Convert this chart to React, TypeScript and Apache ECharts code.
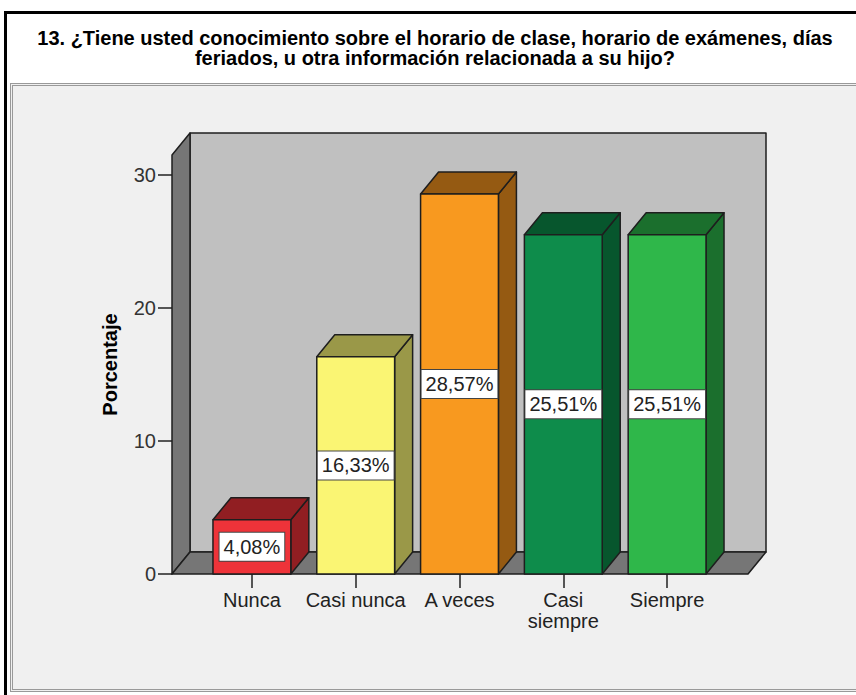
import React, { useEffect, useRef } from 'react';
import * as echarts from 'echarts';

const categories = ['Nunca', 'Casi nunca', 'A veces', 'Casi siempre', 'Siempre'];
const percentages = [4.08, 16.33, 28.57, 25.51, 25.51];
const yTicks = [0, 10, 20, 30];
const frontColors = ['#ee3339', '#faf573', '#f8991f', '#0e8c4b', '#2fb74a'];
const shadeColors = ['#911e22', '#9a9848', '#955a12', '#07562d', '#1b6f2d'];
const titleText =
  '13. ¿Tiene usted conocimiento sobre el horario de clase, horario de exámenes, días\nferiados, u otra información relacionada a su hijo?';
const yAxisName = 'Porcentaje';

const FONT = '"Liberation Sans", Arial, Helvetica, sans-serif';
const DX = 18;
const DY = -22;

function formatPct(v: number): string {
  return v.toFixed(2).replace('.', ',') + '%';
}

export default function App() {
  const ref = useRef<HTMLDivElement>(null);

  useEffect(() => {
    if (!ref.current) return;
    const chart = echarts.init(ref.current, undefined, { renderer: 'svg' });
    const edge = { stroke: '#1e1e1e', lineWidth: 1.5, lineJoin: 'round' };

    chart.setOption({
      animation: false,
      backgroundColor: 'transparent',
      graphic: [
        {
          type: 'text',
          x: 435,
          y: 28,
          style: {
            text: titleText,
            font: 'bold 20px ' + FONT,
            fill: '#000',
            textAlign: 'center',
            lineHeight: 20,
          },
        },
      ],
      grid: { left: 200, right: 137, top: 155, bottom: 121, containLabel: false },
      xAxis: {
        type: 'category',
        data: categories,
        axisLine: { show: false },
        axisTick: { show: true, alignWithLabel: true, length: 14, lineStyle: { color: '#222', width: 1.5 } },
        axisLabel: {
          interval: 0,
          fontSize: 20,
          fontFamily: FONT,
          color: '#222',
          margin: 15,
          lineHeight: 21,
          formatter: (v: string) => (v.length > 10 ? v.replace(' ', '\n') : v),
        },
        splitLine: { show: false },
      },
      yAxis: {
        type: 'value',
        min: 0,
        max: 31.5,
        offset: 28,
        name: yAxisName,
        nameLocation: 'middle',
        nameRotate: 90,
        nameGap: 52,
        nameTextStyle: { fontSize: 20, fontWeight: 'bold', fontFamily: FONT, color: '#000' },
        axisLine: { show: false },
        axisTick: { show: true, length: 14, customValues: yTicks, lineStyle: { color: '#222', width: 1.5 } },
        axisLabel: { customValues: yTicks, fontSize: 20, fontFamily: FONT, color: '#333', margin: 16 },
        splitLine: { show: false },
      },
      series: [
        {
          type: 'custom',
          name: 'frame',
          silent: true,
          data: [[0, 0]],
          renderItem: (params: any) => {
            const cs = params.coordSys;
            const L = cs.x - 28;
            const R = cs.x + cs.width + 29;
            const T = cs.y;
            const B = cs.y + cs.height;
            return {
              type: 'group',
              children: [
                { type: 'rect', shape: { x: L + DX, y: T + DY, width: R - L, height: B - T }, style: { fill: '#c0c0c0', ...edge } },
                { type: 'polygon', shape: { points: [[L, T], [L + DX, T + DY], [L + DX, B + DY], [L, B]] }, style: { fill: '#767676', ...edge } },
                { type: 'polygon', shape: { points: [[L, B], [L + DX, B + DY], [R + DX, B + DY], [R, B]] }, style: { fill: '#767676', ...edge } },
              ],
            };
          },
        },
        {
          type: 'custom',
          name: 'Porcentaje',
          data: percentages.map((v, i) => [i, v]),
          renderItem: (params: any, api: any) => {
            const idx = params.dataIndex;
            const xv = api.value(0);
            const v = api.value(1);
            const top = api.coord([xv, v]);
            const base = api.coord([xv, 0]);
            const half = (api.size([1, 0])[0] * 0.75) / 2;
            const l = top[0] - half;
            const r = top[0] + half;
            const t = top[1];
            const b = base[1];
            return {
              type: 'group',
              children: [
                { type: 'polygon', shape: { points: [[r, b], [r + DX, b + DY], [r + DX, t + DY], [r, t]] }, style: { fill: shadeColors[idx], ...edge } },
                { type: 'polygon', shape: { points: [[l, t], [l + DX, t + DY], [r + DX, t + DY], [r, t]] }, style: { fill: shadeColors[idx], ...edge } },
                { type: 'rect', shape: { x: l, y: t, width: r - l, height: b - t }, style: { fill: frontColors[idx], ...edge } },
                {
                  type: 'text',
                  x: top[0],
                  y: (t + b) / 2,
                  style: {
                    text: formatPct(v),
                    font: '20px ' + FONT,
                    fill: '#222',
                    textAlign: 'center',
                    textVerticalAlign: 'middle',
                    lineHeight: 21,
                    backgroundColor: '#ffffff',
                    borderColor: '#444',
                    borderWidth: 1,
                    padding: [4, 4, 3, 4],
                  },
                },
              ],
            };
          },
        },
      ],
    });
    return () => chart.dispose();
  }, []);

  return (
    <div style={{ position: 'absolute', left: 0, top: 0, width: 856, height: 695, overflow: 'hidden', background: '#fff' }}>
      <div style={{ position: 'absolute', left: 4, top: 11, width: 900, height: 800, borderLeft: '3px solid #000', borderTop: '3px solid #000' }} />
      <div
        style={{
          position: 'absolute',
          left: 10,
          top: 83,
          width: 900,
          height: 603,
          background: '#f0f0f0',
          border: '3px double #999',
        }}
      />
      <div ref={ref} style={{ position: 'absolute', left: 0, top: 0, width: 856, height: 695 }} />
    </div>
  );
}
